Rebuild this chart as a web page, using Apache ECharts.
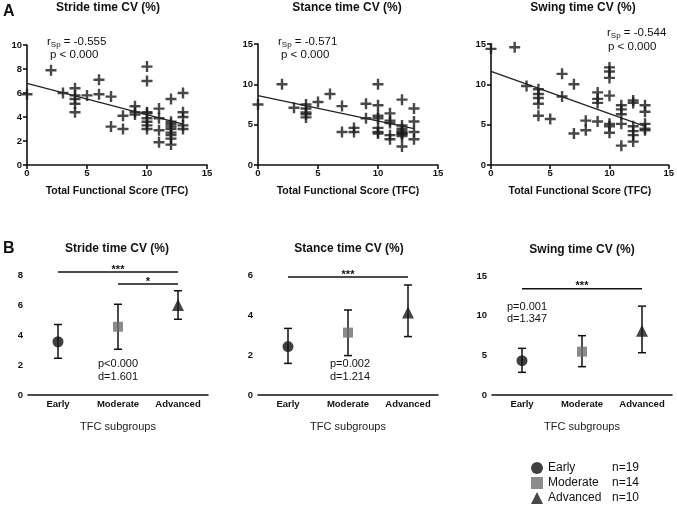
<!DOCTYPE html>
<html>
<head>
<meta charset="utf-8">
<script src="https://cdn.jsdelivr.net/npm/echarts@6/dist/echarts.min.js"></script>
<style>
html, body { margin: 0; padding: 0; background: #fff; }
#chart { width: 677px; height: 510px; }
</style>
</head>
<body>
<div id="chart"></div>
<script>
// ---- panel A: CV vs TFC score ----
var strideTfc = [0,2,3,4,4,4,4,4,5,6,6,7,7,8,8,9,9,9,10,10,10,10,10,10,10,10,11,11,11,11,12,12,12,12,12,12,12,12,12,13,13,13,13,13];
var strideCv  = [5.9,7.9,6.0,6.4,5.8,5.5,5.1,4.4,5.8,7.1,5.9,5.7,3.2,4.1,3.0,4.9,4.4,4.2,8.2,7.0,4.4,4.3,3.9,3.6,3.3,3.0,4.7,3.9,2.9,1.9,5.5,3.6,3.4,3.2,3.0,2.7,2.5,2.2,1.7,6.0,4.4,4.0,3.3,3.0];

var stanceTfc = [0,2,3,4,4,4,4,4,5,6,7,7,8,8,9,9,10,10,10,10,10,10,10,11,11,11,11,11,12,12,12,12,12,12,12,12,12,13,13,13,13];
var stanceCv  = [7.5,10.0,7.1,7.5,7.0,6.5,6.3,5.9,7.8,8.8,7.3,4.1,4.6,4.1,7.6,5.8,10.0,7.4,6.1,5.8,4.6,4.1,3.9,6.4,5.5,5.2,3.7,3.2,8.1,4.9,4.5,4.2,4.0,3.9,3.8,3.6,2.3,7.0,5.4,4.1,3.2];

var swingTfc = [0,2,3,4,4,4,4,4,5,6,6,7,7,8,8,9,9,9,9,10,10,10,10,10,10,10,11,11,11,11,11,12,12,12,12,12,12,13,13,13,13,13];
var swingCv  = [14.4,14.6,9.8,9.4,8.8,8.3,7.6,6.1,5.7,11.3,8.5,10.0,3.9,5.5,4.3,9.0,8.2,7.7,5.4,12.1,11.6,10.8,8.6,5.1,4.8,4.0,7.4,6.9,6.3,5.1,2.4,8.0,7.7,4.8,4.2,3.7,2.9,7.4,6.6,5.1,4.5,4.3];

// regression line end points
var fitX = [0, 13];
var strideFit = [6.8, 3.4];
var stanceFit = [8.6, 4.5];
var swingFit = [11.6, 4.8];

var rhoText = ['-0.555', '-0.571', '-0.544'];

// ---- panel B: TFC subgroups ----
var groups = ['Early', 'Moderate', 'Advanced'];
var groupN = [19, 14, 10];

var strideMean = [3.55, 4.55, 6.0];
var strideLow  = [2.45, 3.05, 5.05];
var strideHigh = [4.7, 6.05, 6.95];

var stanceMean = [2.42, 3.12, 4.13];
var stanceLow  = [1.58, 1.97, 2.92];
var stanceHigh = [3.33, 4.25, 5.5];

var swingMean = [4.32, 5.46, 8.1];
var swingLow  = [2.86, 3.57, 5.33];
var swingHigh = [5.88, 7.48, 11.2];

// [from group, to group, y, stars]
var strideSig = [[0, 2, 8.2, '***'], [1, 2, 7.4, '*']];
var stanceSig = [[0, 2, 5.9, '***']];
var swingSig  = [[0, 2, 13.4, '***']];

var font = 'Liberation Sans, Arial, sans-serif';
var ink = '#111';
var plus = 'path://M3.9,0H6.1V3.9H10V6.1H6.1V10H3.9V6.1H0V3.9H3.9Z';

var grids = [
  { left: 27,  top: 45,  width: 180, height: 120 },
  { left: 258, top: 44,  width: 180, height: 121 },
  { left: 491, top: 44,  width: 179, height: 121 },
  { left: 28,  top: 275, width: 180, height: 120 },
  { left: 258, top: 275, width: 180, height: 120 },
  { left: 492, top: 276, width: 180, height: 119 }
];

function axisBase(i) {
  return {
    gridIndex: i,
    axisLine: { lineStyle: { color: ink, width: 1.6 } },
    axisTick: { length: 4, lineStyle: { color: ink, width: 1.6 } },
    splitLine: { show: false },
    axisLabel: { color: ink, fontWeight: 'bold', fontSize: 9.5, fontFamily: font }
  };
}

var xAxes = [], yAxes = [];
var yMax = [10, 15, 15, 8, 6, 15];
var yStep = [2, 5, 5, 2, 2, 5];
for (var i = 0; i < 6; i++) {
  var xa = axisBase(i);
  if (i < 3) {
    xa.type = 'value';
    xa.min = 0; xa.max = 15; xa.interval = 5;
    xa.axisLabel.margin = 3;
    xa.name = 'Total Functional Score (TFC)';
    xa.nameGap = 21;
    xa.nameTextStyle = { color: ink, fontWeight: 'bold', fontSize: 10.5, fontFamily: font };
  } else {
    xa.type = 'category';
    xa.data = groups;
    xa.axisTick.alignWithLabel = true;
    xa.axisLabel.margin = 4;
    xa.name = 'TFC subgroups';
    xa.nameGap = 26;
    xa.nameTextStyle = { color: '#222', fontSize: 11, fontFamily: font };
  }
  xa.nameLocation = 'middle';
  xAxes.push(xa);

  var ya = axisBase(i);
  ya.type = 'value';
  ya.min = 0; ya.max = yMax[i]; ya.interval = yStep[i];
  ya.axisLabel.margin = 5;
  yAxes.push(ya);
}

function pairs(xs, ys) {
  return xs.map(function (x, k) { return [x, ys[k]]; });
}

var series = [];
var scatterSets = [[strideTfc, strideCv], [stanceTfc, stanceCv], [swingTfc, swingCv]];
var fits = [strideFit, stanceFit, swingFit];
scatterSets.forEach(function (s, i) {
  series.push({
    type: 'scatter', xAxisIndex: i, yAxisIndex: i,
    symbol: plus, symbolSize: 11, clip: false,
    itemStyle: { color: '#1a1a1a' },
    data: pairs(s[0], s[1]), silent: true
  });
  series.push({
    type: 'line', xAxisIndex: i, yAxisIndex: i,
    showSymbol: false, silent: true,
    lineStyle: { color: '#222', width: 1.3 },
    data: pairs(fitX, fits[i])
  });
});

var bSets = [
  [strideMean, strideLow, strideHigh, strideSig],
  [stanceMean, stanceLow, stanceHigh, stanceSig],
  [swingMean, swingLow, swingHigh, swingSig]
];
var symbols = ['circle', 'rect', 'triangle'];
var colors = ['#111', '#6e6e6e', '#1a1a1a'];
var sizes = [11, 10, 12];

bSets.forEach(function (b, j) {
  var gi = j + 3;
  // error bars
  series.push({
    type: 'custom', xAxisIndex: gi, yAxisIndex: gi, silent: true,
    encode: { x: 0, y: [1, 2] },
    data: groups.map(function (g, k) { return [k, b[1][k], b[2][k]]; }),
    renderItem: function (params, api) {
      var lo = api.coord([api.value(0), api.value(1)]);
      var hi = api.coord([api.value(0), api.value(2)]);
      var st = { stroke: ink, lineWidth: 1.5 };
      return { type: 'group', children: [
        { type: 'line', shape: { x1: lo[0], y1: lo[1], x2: hi[0], y2: hi[1] }, style: st },
        { type: 'line', shape: { x1: lo[0] - 4, y1: lo[1], x2: lo[0] + 4, y2: lo[1] }, style: st },
        { type: 'line', shape: { x1: hi[0] - 4, y1: hi[1], x2: hi[0] + 4, y2: hi[1] }, style: st }
      ] };
    }
  });
  // significance brackets
  series.push({
    type: 'custom', xAxisIndex: gi, yAxisIndex: gi, silent: true,
    encode: { x: [0, 1], y: 2 },
    data: b[3].map(function (d) { return [d[0], d[1], d[2]]; }),
    renderItem: function (params, api) {
      var a = api.coord([api.value(0), api.value(2)]);
      var c = api.coord([api.value(1), api.value(2)]);
      var stars = b[3][params.dataIndex][3];
      return { type: 'group', children: [
        { type: 'line', shape: { x1: a[0], y1: a[1], x2: c[0], y2: c[1] }, style: { stroke: ink, lineWidth: 1.5 } },
        { type: 'text', x: (a[0] + c[0]) / 2, y: a[1] + 3,
          style: { text: stars, align: 'center', verticalAlign: 'bottom', fill: ink,
                   font: 'bold 11px ' + font } }
      ] };
    }
  });
  // group means
  groups.forEach(function (g, k) {
    series.push({
      type: 'scatter', name: g, xAxisIndex: gi, yAxisIndex: gi, silent: true,
      symbol: symbols[k], symbolSize: sizes[k], z: 5,
      itemStyle: { color: colors[k] },
      data: [[g, b[0][k]]]
    });
  });
});

function txt(x, y, text, opts) {
  var st = { text: text, fill: '#111', font: (opts.weight || 'normal') + ' ' + opts.size + 'px ' + font,
             align: opts.align || 'center', verticalAlign: 'middle' };
  if (opts.lineHeight) st.lineHeight = opts.lineHeight;
  if (opts.rich) st.rich = opts.rich;
  return { type: 'text', x: x, y: y, silent: true, style: st };
}

var subRich = {
  m: { fontSize: 11.5, fontFamily: font, lineHeight: 14, verticalAlign: 'middle' },
  s: { fontSize: 8, fontFamily: font, lineHeight: 14, verticalAlign: 'bottom' }
};
function rhoLabel(v) { return '{m|r}{s|Sp}{m| = ' + v + '}'; }

var graphics = [
  txt(3, 12, 'A', { size: 16, weight: 'bold', align: 'left' }),
  txt(3, 249, 'B', { size: 16, weight: 'bold', align: 'left' }),
  txt(108, 8, 'Stride time CV (%)', { size: 12, weight: 'bold' }),
  txt(347, 8, 'Stance time CV (%)', { size: 12, weight: 'bold' }),
  txt(583, 8, 'Swing time CV (%)', { size: 12, weight: 'bold' }),
  txt(117, 249, 'Stride time CV (%)', { size: 12, weight: 'bold' }),
  txt(349, 249, 'Stance time CV (%)', { size: 12, weight: 'bold' }),
  txt(582, 250, 'Swing time CV (%)', { size: 12, weight: 'bold' }),
  txt(47, 42, rhoLabel(rhoText[0]), { size: 11.5, align: 'left', rich: subRich }),
  txt(50, 55, 'p < 0.000', { size: 11.5, align: 'left' }),
  txt(278, 42, rhoLabel(rhoText[1]), { size: 11.5, align: 'left', rich: subRich }),
  txt(281, 55, 'p < 0.000', { size: 11.5, align: 'left' }),
  txt(607, 33, rhoLabel(rhoText[2]), { size: 11.5, align: 'left', rich: subRich }),
  txt(608, 47, 'p < 0.000', { size: 11.5, align: 'left' }),
  txt(118, 370.5, 'p<0.000\nd=1.601', { size: 11, lineHeight: 13 }),
  txt(350, 370.5, 'p=0.002\nd=1.214', { size: 11, lineHeight: 13 }),
  txt(507, 313, 'p=0.001\nd=1.347', { size: 11, lineHeight: 12.5, align: 'left' })
];

var chart = echarts.init(document.getElementById('chart'));
chart.setOption({
  animation: false,
  backgroundColor: '#fff',
  grid: grids,
  xAxis: xAxes,
  yAxis: yAxes,
  legend: {
    data: groups,
    orient: 'vertical',
    left: 526, top: 456,
    itemWidth: 12, itemHeight: 12, itemGap: 1,
    selectedMode: false,
    textStyle: {
      color: '#111', fontSize: 12, fontFamily: font, lineHeight: 14,
      rich: { a: { width: 64, fontSize: 12, fontFamily: font }, b: { fontSize: 12, fontFamily: font } }
    },
    formatter: function (name) {
      return '{a|' + name + '}{b|n=' + groupN[groups.indexOf(name)] + '}';
    }
  },
  graphic: graphics,
  series: series
});
</script>
</body>
</html>
